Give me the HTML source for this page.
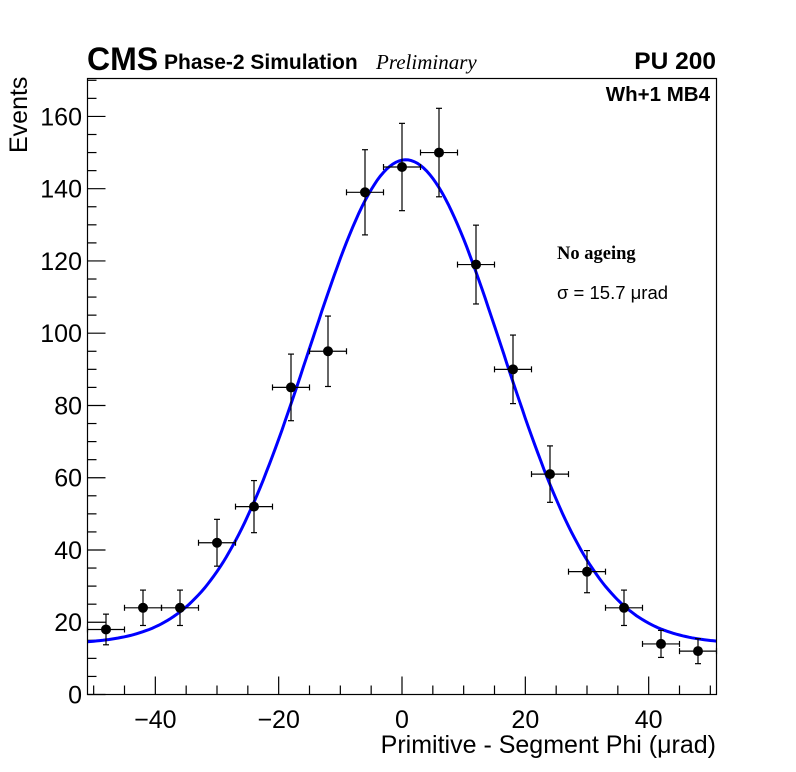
<!DOCTYPE html>
<html><head><meta charset="utf-8"><style>
body{margin:0;background:#fff;}
svg{display:block;font-family:"Liberation Sans",sans-serif;}
</style></head><body>
<svg id="c" width="796" height="772" xmlns="http://www.w3.org/2000/svg">
<text x="87" y="70" font-size="32" font-weight="bold">CMS</text>
<text x="164" y="69" font-size="21" font-weight="bold">Phase-2 Simulation</text>
<text x="376" y="69" font-size="21" font-style="italic" font-family="Liberation Serif,serif">Preliminary</text>
<text x="716" y="69" font-size="24.5" font-weight="bold" text-anchor="end">PU 200</text>
<text x="710" y="101" font-size="20.5" font-weight="bold" text-anchor="end">Wh+1 MB4</text>
<text x="557" y="259" font-size="18.5" font-weight="bold" font-family="Liberation Serif,serif">No ageing</text>
<text x="557" y="299" font-size="18.5">σ = 15.7 μrad</text>
<text transform="translate(27,153) rotate(-90)" font-size="25">Events</text>
<text x="716" y="753" font-size="25" text-anchor="end">Primitive - Segment Phi (μrad)</text>
<g id="axes"></g><g id="fit"></g><g id="pts"></g>
<rect x="87.5" y="78.5" width="629" height="616" fill="none" stroke="#000" stroke-width="1.2"/>
</svg>
<script>
const binCenters=[-48,-42,-36,-30,-24,-18,-12,-6,0,6,12,18,24,30,36,42,48];
const counts=[18,24,24,42,52,85,95,139,146,150,119,90,61,34,24,14,12];
const fitParams=[14,134,0.6,15.7]; // const, amplitude, mean, sigma
const xTicks=[-40,-20,0,20,40];
const yTicks=[0,20,40,60,80,100,120,140,160];
const X0=87.5,X1=716.5,Y0=694.5,Y1=78.5,XMIN=-51,XMAX=51,YMIN=0,YMAX=170.5;
const sx=v=>X0+(v-XMIN)/(XMAX-XMIN)*(X1-X0);
const sy=v=>Y0-(v-YMIN)/(YMAX-YMIN)*(Y0-Y1);
const NS="http://www.w3.org/2000/svg";
function mk(t,a,p){const e=document.createElementNS(NS,t);for(const k in a)e.setAttribute(k,a[k]);p.appendChild(e);return e;}
const ax=document.getElementById('axes');
for(let v=-50;v<=50;v+=5){const maj=v%20===0;
 const l=mk('line',{x1:sx(v),x2:sx(v),y1:Y0,y2:Y0-(maj?18:9),stroke:'#000','stroke-width':1.2},ax);
 
 }
for(let v=0;v<=170;v+=5){const maj=v%20===0;
 const l=mk('line',{x1:X0,x2:X0+(maj?18:9),y1:sy(v),y2:sy(v),stroke:'#000','stroke-width':1.2},ax);
 
 }
xTicks.forEach(v=>{const t=mk('text',{x:sx(v),y:728,'font-size':25,'text-anchor':'middle'},ax);t.textContent=v<0?'\u2212'+(-v):v;
 
 });
yTicks.forEach(v=>{const t=mk('text',{x:82,y:sy(v)+9,'font-size':25,'text-anchor':'end'},ax);t.textContent=v;
 
 });
const f=v=>fitParams[0]+fitParams[1]*Math.exp(-Math.pow(v-fitParams[2],2)/(2*fitParams[3]*fitParams[3]));
let d='';for(let v=XMIN;v<=XMAX;v+=0.5)d+=(d?'L':'M')+sx(v).toFixed(1)+','+sy(f(v)).toFixed(1);
const fl=mk('path',{d:d,fill:'none',stroke:'#0000ff','stroke-width':3},document.getElementById('fit'));


const pg=document.getElementById('pts');
binCenters.forEach((c,i)=>{const n=counts[i],e=Math.sqrt(n);
 const g=mk('g',{},pg);
 
 
 const a={stroke:'#000','stroke-width':1.2};
 mk('line',Object.assign({x1:sx(c-3),x2:sx(c+3),y1:sy(n),y2:sy(n)},a),g);
 mk('line',Object.assign({x1:sx(c),x2:sx(c),y1:sy(n-e),y2:sy(n+e)},a),g);
 mk('line',Object.assign({x1:sx(c-3),x2:sx(c-3),y1:sy(n)-3,y2:sy(n)+3},a),g);
 mk('line',Object.assign({x1:sx(c+3),x2:sx(c+3),y1:sy(n)-3,y2:sy(n)+3},a),g);
 mk('line',Object.assign({x1:sx(c)-3,x2:sx(c)+3,y1:sy(n-e),y2:sy(n-e)},a),g);
 mk('line',Object.assign({x1:sx(c)-3,x2:sx(c)+3,y1:sy(n+e),y2:sy(n+e)},a),g);
 mk('circle',{cx:sx(c),cy:sy(n),r:5,fill:'#000'},g);
});
</script>
</body></html>
